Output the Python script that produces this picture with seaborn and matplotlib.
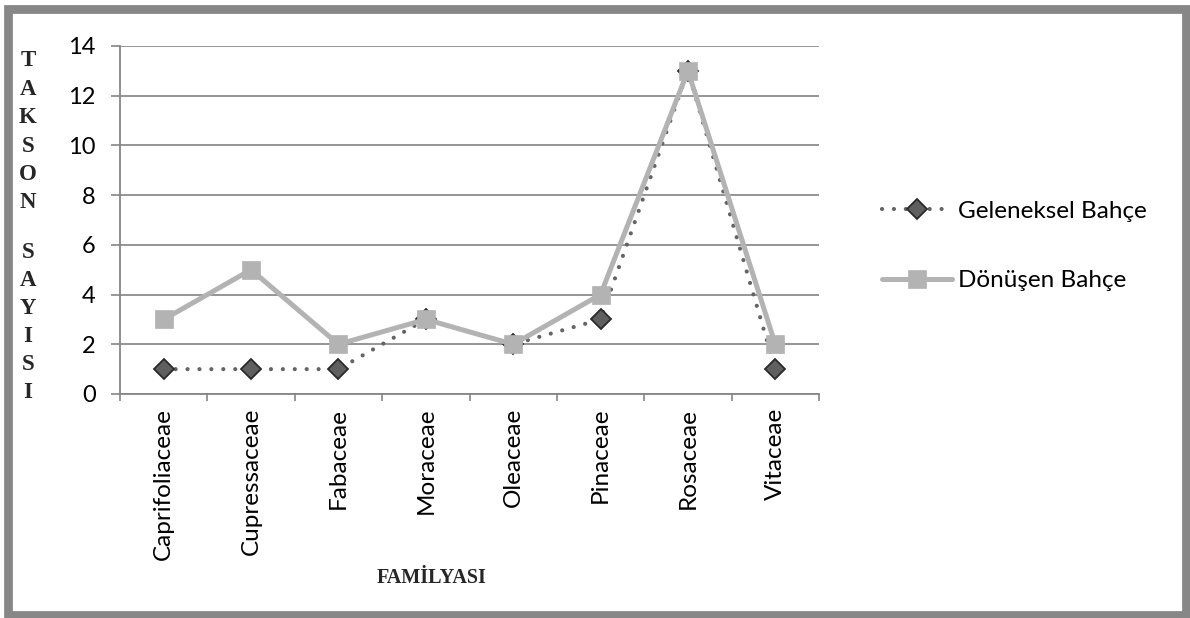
import matplotlib
matplotlib.use("Agg")
import matplotlib.pyplot as plt
import seaborn as sns
import pandas as pd
from matplotlib.patches import Rectangle
from matplotlib.ticker import FixedLocator

# Plant families and taxon counts per garden type
families = ["Caprifoliaceae", "Cupressaceae", "Fabaceae", "Moraceae",
            "Oleaceae", "Pinaceae", "Rosaceae", "Vitaceae"]
geleneksel = [1, 1, 1, 3, 2, 3, 13, 1]
donusen = [3, 5, 2, 3, 2, 4, 13, 2]
y_ticks = [0, 2, 4, 6, 8, 10, 12, 14]

sns.set_style("white")
plt.rcParams["font.family"] = ["Lato", "DejaVu Sans"]

W, H = 1190, 618
fig = plt.figure(figsize=(W / 100, H / 100), dpi=100)
ax = fig.add_axes([120 / W, (H - 394) / H, 699 / W, 348 / H])

df = pd.DataFrame({
    "Familya": families * 2,
    "Takson": geleneksel + donusen,
    "Bahçe": ["Geleneksel Bahçe"] * len(families) + ["Dönüşen Bahçe"] * len(families),
})

palette = {"Geleneksel Bahçe": "#646464", "Dönüşen Bahçe": "#b3b3b3"}

# Traditional garden: dotted line with dark diamonds
sns.lineplot(data=df[df["Bahçe"] == "Geleneksel Bahçe"], x="Familya", y="Takson",
             hue="Bahçe", palette=palette, ax=ax, sort=False,
             linewidth=3.0, linestyle=(0, (0.01, 2.85)), dash_capstyle="round",
             marker="D", markersize=10, markerfacecolor="#5f5f5f",
             markeredgecolor="#2a2a2a", markeredgewidth=1.3, zorder=3)
# Transformed garden: thick light gray line with squares
sns.lineplot(data=df[df["Bahçe"] == "Dönüşen Bahçe"], x="Familya", y="Takson",
             hue="Bahçe", palette=palette, ax=ax, sort=False,
             linewidth=3.6, marker="s", markersize=13.5,
             markerfacecolor="#b3b3b3", markeredgecolor="#b3b3b3",
             markeredgewidth=0.5, zorder=4)

ax.set_xlim(-0.5, len(families) - 0.5)
ax.set_ylim(0, 14)
ax.set_yticks(y_ticks)
ax.set_yticklabels([str(v) for v in y_ticks])

# category labels centered, tick marks on category boundaries
ax.set_xticks(range(len(families)))
ax.set_xticklabels(families, rotation=90, va="top", ha="center")
ax.xaxis.set_minor_locator(FixedLocator([i - 0.5 for i in range(len(families) + 1)]))
ax.tick_params(axis="x", which="major", length=0, pad=10, labelsize=17.5, labelcolor="#000000")
ax.tick_params(axis="x", which="minor", length=5, width=1.2, color="#868686", bottom=True)
ax.tick_params(axis="y", which="major", length=6.5, width=1.2, color="#868686",
               left=True, pad=11, labelsize=17, labelcolor="#000000")

ax.grid(axis="y", color="#8c8c8c", linewidth=1.3)
ax.grid(axis="x", visible=False)
ax.set_axisbelow(True)
for side in ["top", "right"]:
    ax.spines[side].set_visible(False)
for side in ["left", "bottom"]:
    ax.spines[side].set_color("#868686")
    ax.spines[side].set_linewidth(1.3)

ax.set_xlabel("")
ax.set_ylabel("")

# Legend
handles = []
labels = []
for ln in ax.get_lines():
    lab = ln.get_label()
    if lab in palette and lab not in labels:
        handles.append(ln)
        labels.append(lab)
if ax.get_legend() is not None:
    ax.get_legend().remove()
leg = fig.legend(handles, labels, loc="center left",
                 bbox_to_anchor=(860 / W, (H - 246) / H), frameon=False,
                 fontsize=17.5, handlelength=2.9, handletextpad=0.25,
                 labelspacing=2.0, numpoints=1)
for txt in leg.get_texts():
    txt.set_color("#000000")

# Vertical y-axis title, one letter per line
top_word = "TAKSON"
bottom_word = "SAYISI"
for i, ch in enumerate(top_word):
    fig.text(28 / W, (H - (61 + i * 28.4)) / H, ch, ha="center", va="center",
             fontsize=16.5, fontweight="bold", family="Liberation Serif")
for i, ch in enumerate(bottom_word):
    fig.text(28 / W, (H - (253 + i * 28)) / H, ch, ha="center", va="center",
             fontsize=16.5, fontweight="bold", family="Liberation Serif")

fig.text(432 / W, (H - 578) / H, "FAMİLYASI", ha="center", va="center",
         fontsize=14.5, fontweight="bold", family="Liberation Serif")

# Outer frame
fig.patches.append(Rectangle((7.5 / W, 3 / H), (1185.5 - 7.5) / W, (609.5 - 3) / H,
                             transform=fig.transFigure, fill=False,
                             edgecolor="#878787", linewidth=6.3, zorder=10))

fig.savefig("out.png", dpi=100)
